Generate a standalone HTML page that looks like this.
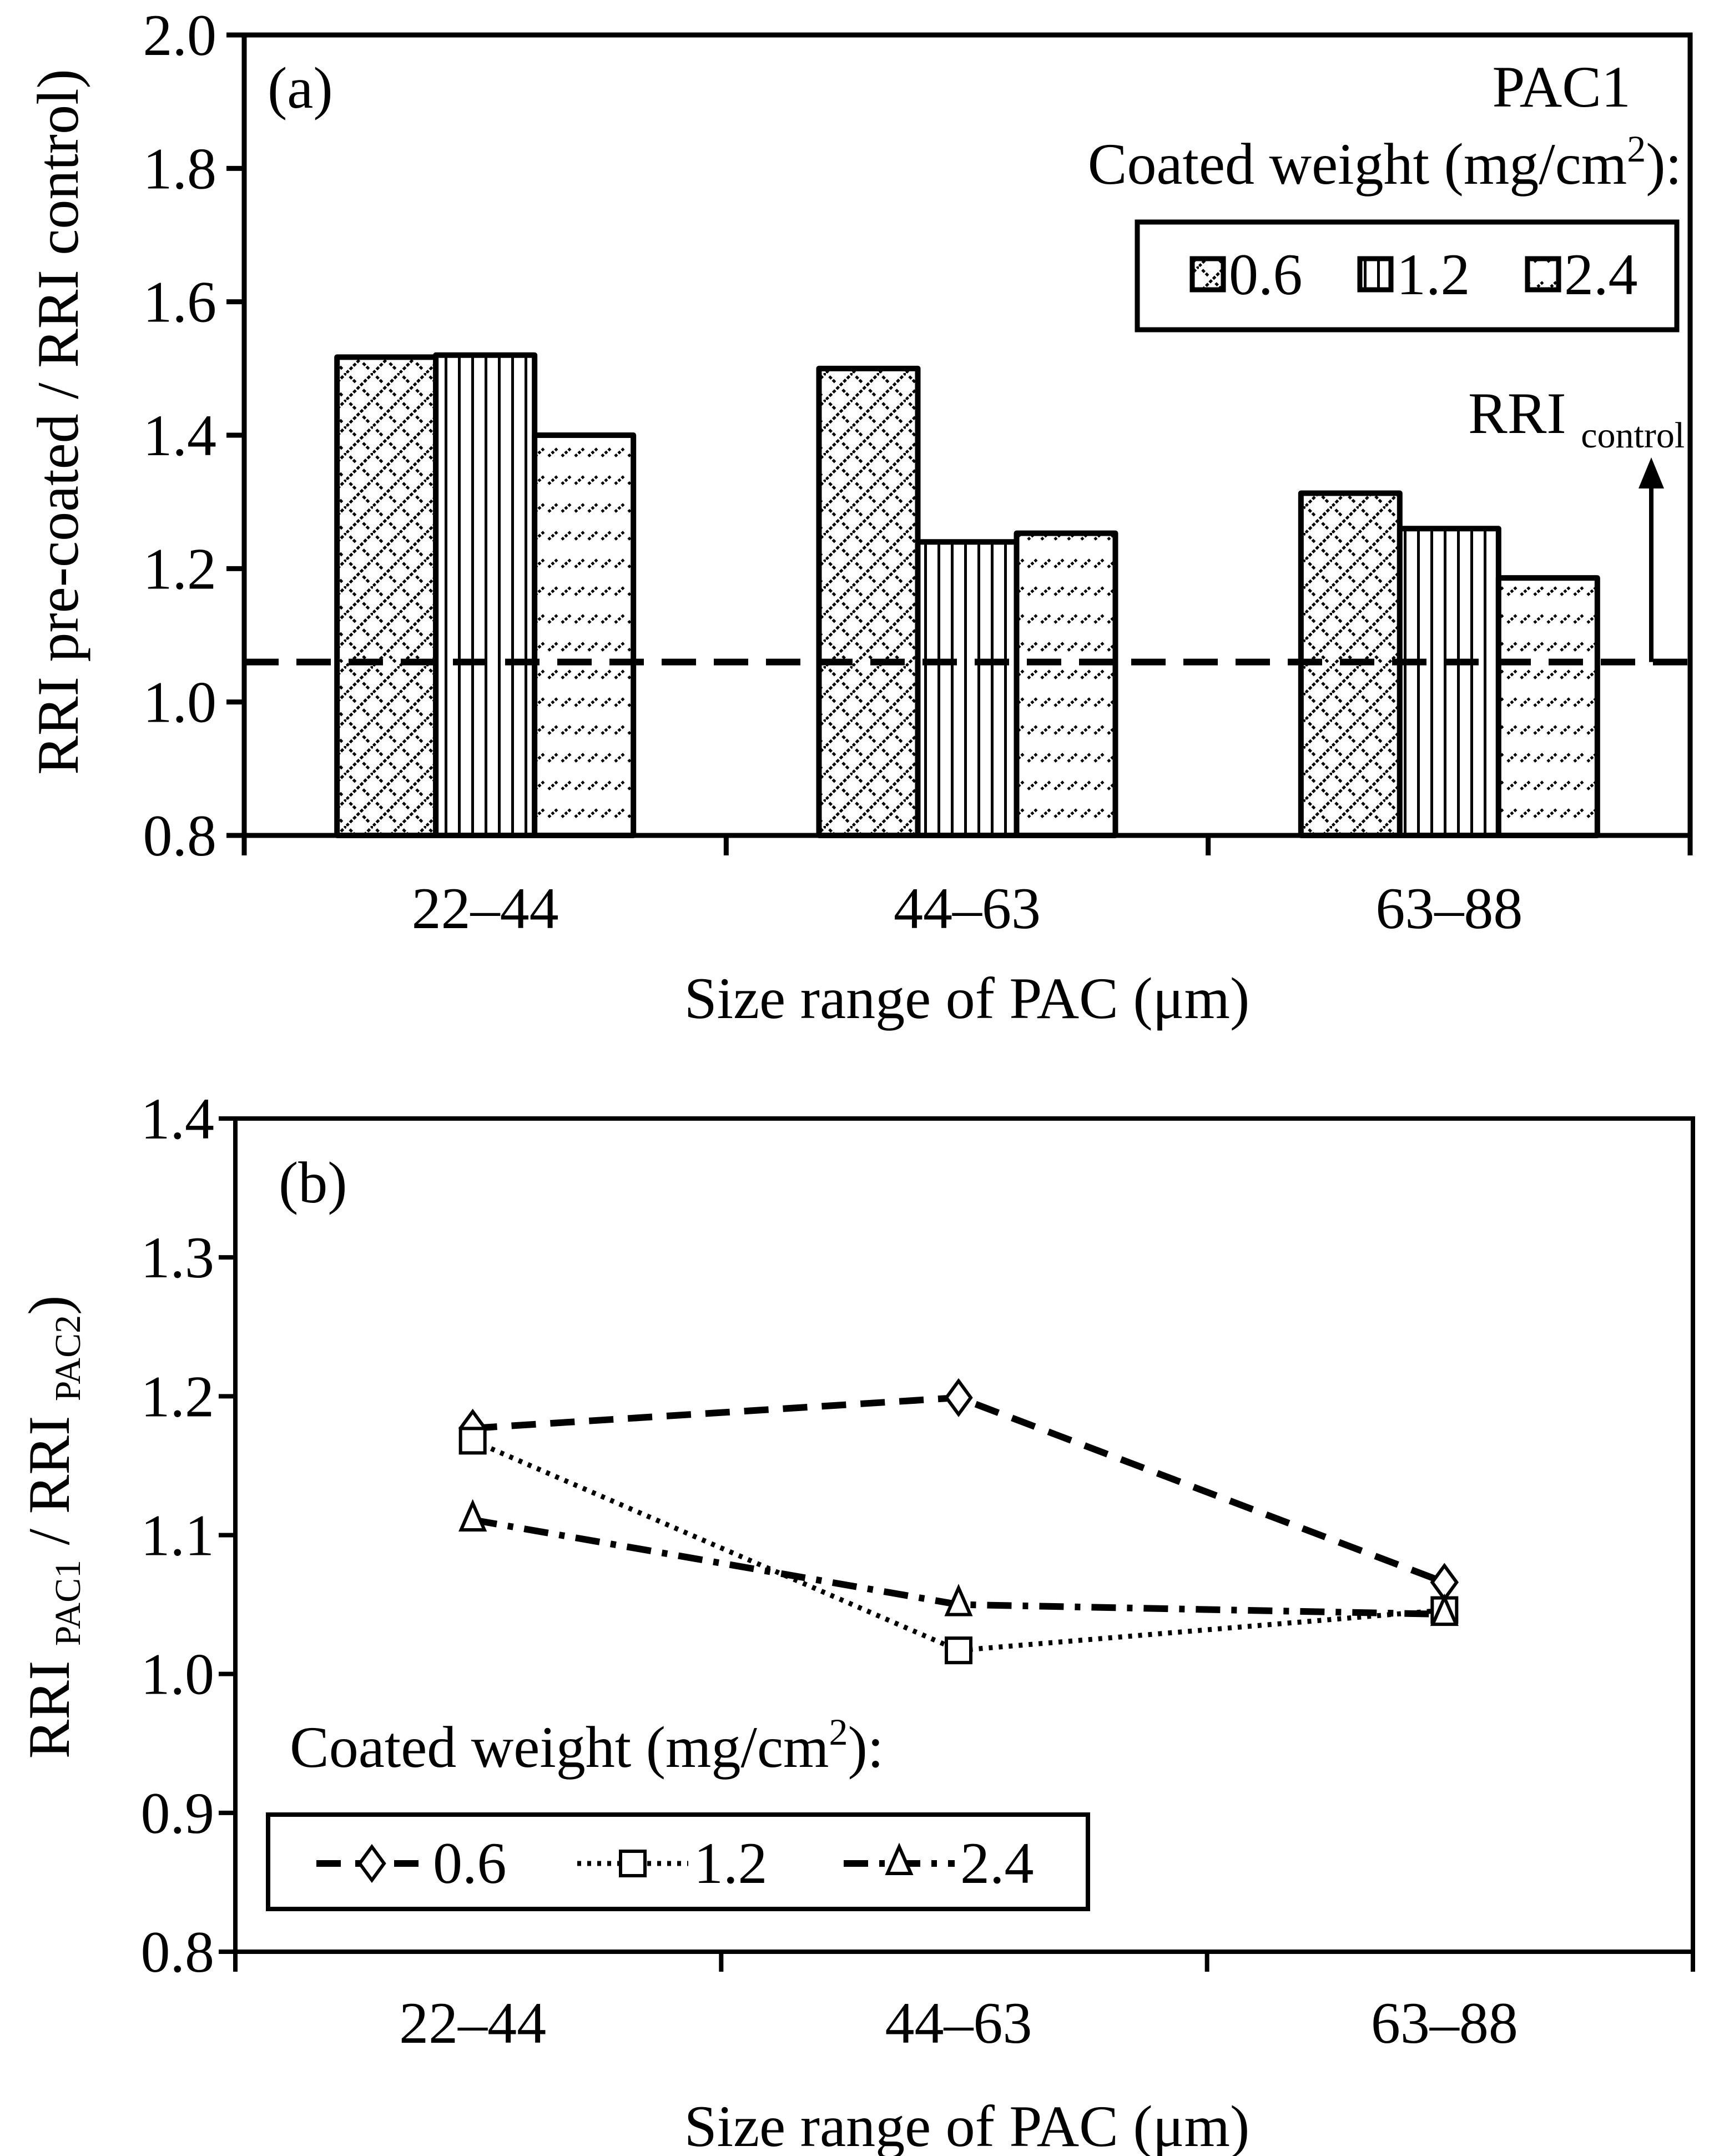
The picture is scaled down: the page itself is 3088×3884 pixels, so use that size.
<!DOCTYPE html>
<html><head><meta charset="utf-8"><style>
html,body{margin:0;padding:0;background:#fff}
svg{display:block}
svg, text, tspan{font-family:"Liberation Serif","Times New Roman",Times,serif;fill:#000}
</style></head><body>
<svg id="fig" width="3088" height="3884" viewBox="0 0 3088 3884" xmlns="http://www.w3.org/2000/svg" font-family="Liberation Serif, Times New Roman, serif">
<defs>
<pattern id="p06" width="48" height="48" patternUnits="userSpaceOnUse">
<rect width="48" height="48" fill="#fff"/>
<path d="M0 48 L48 0 M-12 12 L12 -12 M36 60 L60 36" stroke="#000" stroke-width="5" stroke-dasharray="6 3"/>
<path d="M6 6 L18 18 M30 30 L42 42" stroke="#000" stroke-width="5" stroke-dasharray="6 3"/>
</pattern>
<pattern id="p12" width="24" height="24" patternUnits="userSpaceOnUse">
<rect width="24" height="24" fill="#fff"/>
<rect x="9" y="0" width="5" height="24" fill="#000"/>
</pattern>
<pattern id="p24" width="24" height="50" patternUnits="userSpaceOnUse">
<rect width="24" height="50" fill="#fff"/>
<path d="M4 22 L20 8" stroke="#000" stroke-width="5" stroke-dasharray="5 3"/>
</pattern>
</defs>
<g id="chartA"></g>
<g id="chartB"></g>
</svg>
<script>
const categories = ["22–44","44–63","63–88"];
const seriesNames = ["0.6","1.2","2.4"];
const barsW06 = [1.517, 1.50, 1.313];
const barsW12 = [1.52, 1.24, 1.26];
const barsW24 = [1.40, 1.253, 1.186];
const controlLevel = 1.06;
const yTicksA = ["0.8","1.0","1.2","1.4","1.6","1.8","2.0"];
const lineW06 = [1.177, 1.199, 1.066];
const lineW12 = [1.168, 1.017, 1.046];
const lineW24 = [1.111, 1.050, 1.043];
const yTicksB = ["0.8","0.9","1.0","1.1","1.2","1.3","1.4"];

const NS="http://www.w3.org/2000/svg";
const FF="Liberation Serif, Times New Roman, serif";
function mk(parent, tag, attrs, txt){const e=document.createElementNS(NS,tag);for(const k in attrs)e.setAttribute(k,attrs[k]);if(tag==='text')e.setAttribute('font-family',FF);if(txt!==undefined)e.textContent=txt;parent.appendChild(e);return e;}

// ---------- Panel A ----------
const A=document.getElementById('chartA');
const aL=440,aR=3045,aT=63,aB=1505,aMin=0.8,aMax=2.0;
const ya=v=>aB-(v-aMin)/(aMax-aMin)*(aB-aT);
const catW=(aR-aL)/3;
const xa=i=>aL+catW*(i+0.5);
const barW=178;
const pats=["url(#p06)","url(#p12)","url(#p24)"];
const barSeries=[barsW06,barsW12,barsW24];
barSeries.forEach((s,si)=>{s.forEach((v,ci)=>{
  const cx=xa(ci)+(si-1)*barW;
  const r=mk(A,'rect',{x:cx-barW/2,y:ya(v),width:barW,height:aB-ya(v),fill:pats[si],stroke:'#000','stroke-width':10,'stroke-linejoin':'round'});
  
  
});});
let e;
e=mk(A,'line',{x1:aL,y1:ya(controlLevel),x2:aR,y2:ya(controlLevel),stroke:'#000','stroke-width':12,'stroke-dasharray':'62 32'});

e=mk(A,'path',{d:`M${aL} ${aT} H${aR} V${aB} H${aL} Z`,fill:'none',stroke:'#000','stroke-width':9});

yTicksA.forEach(t=>{const y=ya(parseFloat(t));
  mk(A,'line',{x1:aL-32,y1:y,x2:aL,y2:y,stroke:'#000','stroke-width':9});
  e=mk(A,'text',{x:aL-50,y:y+36,'font-size':106,'text-anchor':'end'},t);
  });
for(let i=0;i<=3;i++){const x=aL+catW*i;mk(A,'line',{x1:x,y1:aB,x2:x,y2:aB+36,stroke:'#000','stroke-width':9});}
categories.forEach((c,i)=>{e=mk(A,'text',{x:xa(i),y:1672,'font-size':106,'text-anchor':'middle'},c);
  });
e=mk(A,'text',{x:1742,y:1834,'font-size':106,'text-anchor':'middle'},'Size range of PAC (μm)');

e=mk(A,'text',{x:0,y:0,'font-size':106,'text-anchor':'middle',transform:'translate(140,760) rotate(-90)'},'RRI pre-coated / RRI control)');

e=mk(A,'text',{x:482,y:194,'font-size':106},'(a)');

e=mk(A,'text',{x:2938,y:192,'font-size':106,'text-anchor':'end'},'PAC1');

e=mk(A,'text',{x:3030,y:331,'font-size':106,'text-anchor':'end'});
e.innerHTML='Coated weight (mg/cm<tspan dy="-40" font-size="68">2</tspan><tspan dy="40">):</tspan>';

e=mk(A,'rect',{x:2049,y:400,width:972,height:194,fill:'#fff',stroke:'#000','stroke-width':9});

const legX=[2148,2450,2752];
seriesNames.forEach((n,i)=>{
  e=mk(A,'rect',{x:legX[i],y:466,width:56,height:56,fill:pats[i],stroke:'#000','stroke-width':9});
  
  e=mk(A,'text',{x:legX[i]+66,y:530,'font-size':106},n);
  
});
e=mk(A,'text',{x:2645,y:780,'font-size':106});
e.innerHTML='RRI <tspan font-size="66" dy="26">control</tspan>';

e=mk(A,'line',{x1:2975,y1:ya(controlLevel),x2:2975,y2:880,stroke:'#000','stroke-width':8});

mk(A,'polygon',{points:'2975,824 2952,880 2998,880',fill:'#000'});

// ---------- Panel B ----------
const B=document.getElementById('chartB');
const bL=424,bR=3050,bT=2015,bB=3516,bMin=0.8,bMax=1.4;
const yb=v=>bB-(v-bMin)/(bMax-bMin)*(bB-bT);
const catWB=(bR-bL)/3;
const xb=i=>bL+catWB*(i+0.5)-10;
e=mk(B,'path',{d:`M${bL} ${bT} H${bR} V${bB} H${bL} Z`,fill:'none',stroke:'#000','stroke-width':8});

yTicksB.forEach(t=>{const y=yb(parseFloat(t));
  mk(B,'line',{x1:bL-30,y1:y,x2:bL,y2:y,stroke:'#000','stroke-width':8});
  e=mk(B,'text',{x:bL-38,y:y+36,'font-size':106,'text-anchor':'end'},t);
  });
for(let i=0;i<=3;i++){const x=bL+catWB*i;mk(B,'line',{x1:x,y1:bB,x2:x,y2:bB+36,stroke:'#000','stroke-width':8});}
categories.forEach((c,i)=>{e=mk(B,'text',{x:xb(i),y:3680,'font-size':106,'text-anchor':'middle'},c);
  });
e=mk(B,'text',{x:1742,y:3866,'font-size':106,'text-anchor':'middle'},'Size range of PAC (μm)');

e=mk(B,'text',{x:0,y:0,'font-size':106,'text-anchor':'middle',transform:'translate(124,2751) rotate(-90)'});
e.innerHTML='RRI <tspan font-size="66" dy="20">PAC1</tspan><tspan dy="-20"> / RRI </tspan><tspan font-size="66" dy="20">PAC2</tspan><tspan dy="-20">)</tspan>';

e=mk(B,'text',{x:502,y:2166,'font-size':106},'(b)');


const dashes=['44 26','7 11','44 20 10 20'];
const lineSeries=[lineW06,lineW12,lineW24];
function marker(g,kind,x,y,name){
  let m;
  if(kind===0) m=mk(g,'polygon',{points:`${x},${y-30} ${x+22},${y} ${x},${y+30} ${x-22},${y}`,fill:'#fff',stroke:'#000','stroke-width':6});
  else if(kind===1) m=mk(g,'rect',{x:x-22,y:y-22,width:44,height:44,fill:'#fff',stroke:'#000','stroke-width':6});
  else m=mk(g,'polygon',{points:`${x},${y-30} ${x+21},${y+18} ${x-21},${y+18}`,fill:'#fff',stroke:'#000','stroke-width':6});
  
  
}
lineSeries.forEach((s,si)=>{
  const d=s.map((v,i)=>(i?'L':'M')+xb(i)+' '+yb(v)).join(' ');
  const p=mk(B,'path',{d:d,fill:'none',stroke:'#000','stroke-width':si===1?9:12,'stroke-dasharray':dashes[si],'stroke-linecap':'butt'});
  
  
});
lineSeries.forEach((s,si)=>s.forEach((v,i)=>marker(B,si,xb(i),yb(v),'point-'+seriesNames[si]+'-'+categories[i])));

e=mk(B,'text',{x:522,y:3183,'font-size':106});
e.innerHTML='Coated weight (mg/cm<tspan dy="-40" font-size="68">2</tspan><tspan dy="40">):</tspan>';

e=mk(B,'rect',{x:483,y:3269,width:1477,height:170,fill:'#fff',stroke:'#000','stroke-width':8});

const lx=[570,1040,1520];
seriesNames.forEach((n,i)=>{
  e=mk(B,'line',{x1:lx[i],y1:3357,x2:lx[i]+200,y2:3357,stroke:'#000','stroke-width':i===1?9:12,'stroke-dasharray':dashes[i]});
  
  marker(B,i,lx[i]+100,3357,'legend-marker-'+n);
  e=mk(B,'text',{x:lx[i]+210,y:3392,'font-size':106},n);
  
});
</script>
</body></html>
